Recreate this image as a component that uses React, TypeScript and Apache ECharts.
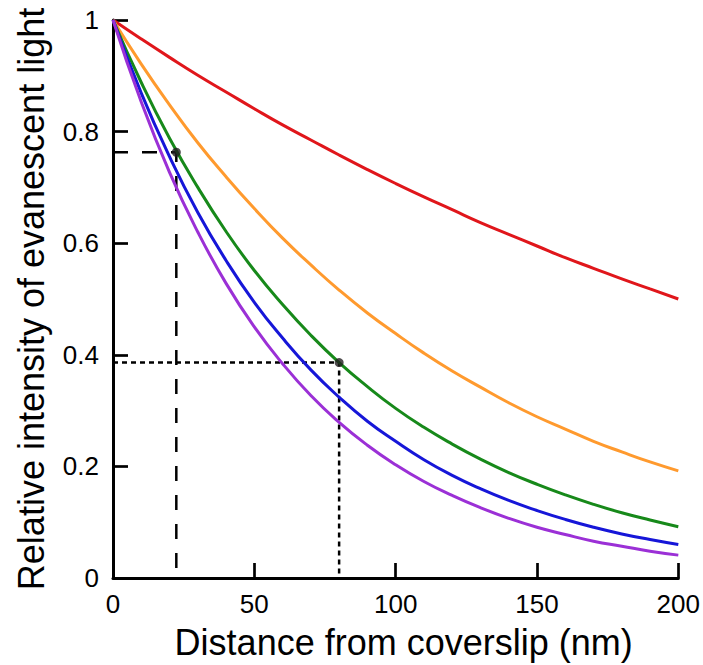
import React, { useEffect, useRef } from "react";
import * as echarts from "echarts";

const distances = [0, 10, 20, 30, 40, 50, 60, 70, 80, 90, 100, 110, 120, 130, 140, 150, 160, 170, 180, 190, 200];

const redValues = [1, 0.966, 0.933, 0.901, 0.871, 0.841, 0.812, 0.785, 0.758, 0.732, 0.707, 0.683, 0.660, 0.637, 0.616, 0.595, 0.574, 0.555, 0.536, 0.518, 0.500];
const orangeValues = [1, 0.921, 0.848, 0.780, 0.719, 0.662, 0.609, 0.561, 0.516, 0.475, 0.438, 0.403, 0.371, 0.342, 0.314, 0.289, 0.267, 0.245, 0.226, 0.208, 0.192];
const greenValues = [1, 0.888, 0.788, 0.700, 0.621, 0.551, 0.490, 0.435, 0.386, 0.343, 0.304, 0.270, 0.240, 0.213, 0.189, 0.168, 0.149, 0.132, 0.117, 0.104, 0.092];
const blueValues = [1, 0.869, 0.755, 0.655, 0.569, 0.494, 0.430, 0.373, 0.324, 0.281, 0.245, 0.212, 0.184, 0.160, 0.139, 0.121, 0.105, 0.091, 0.079, 0.069, 0.060];
const purpleValues = [1, 0.853, 0.727, 0.620, 0.528, 0.450, 0.384, 0.327, 0.279, 0.238, 0.203, 0.173, 0.148, 0.126, 0.107, 0.091, 0.078, 0.066, 0.057, 0.048, 0.041];

const dashedPoint = [22.4, 0.763];
const dottedPoint = [80, 0.386];

const xTicks = { min: 0, max: 200, interval: 50 };
const yTicks = { min: 0, max: 1, interval: 0.2 };

const FONT = "Liberation Sans, Arial, Helvetica, sans-serif";

function pairs(values: number[]) {
  return distances.map((d, i) => [d, values[i]]);
}

export default function App() {
  const ref = useRef<HTMLDivElement>(null);
  useEffect(() => {
    if (!ref.current) return;
    const chart = echarts.init(ref.current, undefined, { renderer: "svg" });
    const curve = (name: string, values: number[], color: string) => ({
      name,
      type: "line",
      data: pairs(values),
      smooth: true,
      showSymbol: false,
      symbol: "none",
      lineStyle: { color, width: 3 },
      z: 3,
    });
    const guide = (pt: number[], dash: number[]) => ({
      type: "line",
      data: [
        [xTicks.min, pt[1]],
        [pt[0], pt[1]],
        [pt[0], yTicks.min],
      ],
      symbol: "none",
      lineStyle: { color: "#000", width: 2.5, type: dash },
      z: 2,
    });
    const axisCommon = {
      axisLine: { show: true, onZero: false, lineStyle: { color: "#000", width: 3 } },
      axisTick: { show: true, inside: true, length: 15, lineStyle: { color: "#000", width: 2.7 } },
      splitLine: { show: false },
    };
    chart.setOption({
      animation: false,
      backgroundColor: "#fff",
      grid: { left: 113, right: 24, top: 20, bottom: 82, containLabel: false },
      xAxis: {
        type: "value",
        min: xTicks.min,
        max: xTicks.max,
        interval: xTicks.interval,
        name: "Distance from coverslip (nm)",
        nameLocation: "middle",
        nameGap: 46,
        nameTextStyle: { fontFamily: FONT, fontSize: 36, color: "#000", padding: [0, 0, 0, 16] },
        axisLabel: { fontFamily: FONT, fontSize: 26, color: "#000", margin: 13 },
        ...axisCommon,
      },
      yAxis: {
        type: "value",
        min: yTicks.min,
        max: yTicks.max,
        interval: yTicks.interval,
        name: "Relative intensity of evanescent light",
        nameLocation: "middle",
        nameGap: 64,
        nameTextStyle: { fontFamily: FONT, fontSize: 36, color: "#000" },
        axisLabel: { fontFamily: FONT, fontSize: 26, color: "#000", margin: 14 },
        ...axisCommon,
      },
      series: [
        guide(dashedPoint, [15, 14]),
        guide(dottedPoint, [5, 4]),
        curve("red", redValues, "#e0161b"),
        curve("orange", orangeValues, "#ff9a2e"),
        curve("green", greenValues, "#17891a"),
        curve("blue", blueValues, "#1616d8"),
        curve("purple", purpleValues, "#9b30d6"),
        {
          type: "scatter",
          data: [dashedPoint, dottedPoint],
          symbol: "circle",
          symbolSize: 9,
          itemStyle: { color: "#231f20" },
          z: 5,
        },
      ],
    });
    return () => chart.dispose();
  }, []);
  return (
    <div
      ref={ref}
      style={{ position: "fixed", left: 0, top: 0, width: 703, height: 665, background: "#fff" }}
    />
  );
}
